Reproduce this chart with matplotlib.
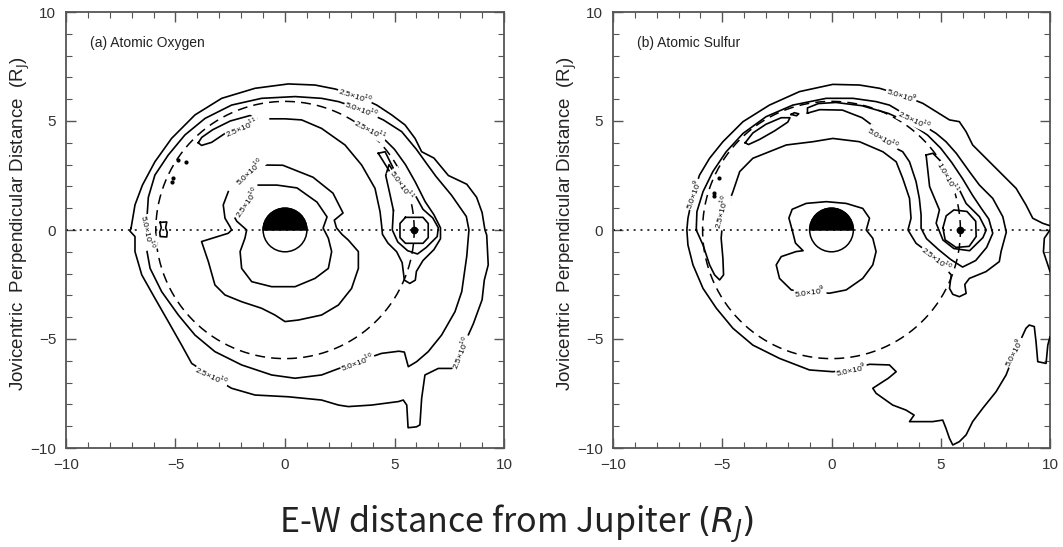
import numpy as np
import matplotlib
matplotlib.use("Agg")
import matplotlib.pyplot as plt
from matplotlib.patches import Wedge, Circle

plt.rcParams['font.family'] = ['Liberation Sans', 'DejaVu Sans']

# ---------------- common geometry (in R_J) ----------------
jupiter_radius = 1.0
io_orbit_radius = 5.9
io_pos = (5.9, 0.0)

# ---------------- (a) atomic oxygen contours ----------------
a_outer = [(-7.03,0.08),(-6.85,1.15),(-6.51,2.06),(-5.94,3.13),(-5.18,4.2),(-4.11,5.28),(-2.89,6.04),
           (-1.37,6.5),(0.15,6.7),(1.37,6.65),(2.28,6.47),(3.2,6.2),(4.19,5.73),(4.87,5.28),(5.48,4.82),
           (5.94,4.2),(6.24,3.59),(6.8,3.3),(7.46,2.5),(8.3,2.1),(8.75,1.5),(9.0,0.8),(9.13,0.0),(9.21,-0.23),
           (9.28,-1.6),(9.1,-2.3),(9.0,-3.2),(8.6,-4.3),(8.2,-5.2),(7.9,-5.9),(7.61,-6.35),(7.0,-6.35),
           (6.39,-6.65),(6.24,-7.72),(6.16,-8.94),(6.0,-9.03),(5.62,-9.07),(5.56,-8.03),(5.4,-7.8),(5.18,-7.87),
           (3.96,-8.03),(2.89,-8.1),(2.44,-8.03),(1.67,-7.8),(0.15,-7.65),(-1.37,-7.57),(-2.44,-7.26),
           (-3.3,-6.75),(-4.26,-6.12),(-4.72,-5.28),(-5.33,-4.2),(-5.94,-3.13),(-6.54,-2.06),(-6.85,-0.99),
           (-6.85,-0.3),(-7.08,-0.05)]
a_mid = [(-6.3,0.6),(-6.24,1.5),(-5.94,2.52),(-5.33,3.44),(-4.57,4.36),(-3.65,5.12),(-2.44,5.73),
         (-1.07,6.04),(0.46,6.12),(1.67,6.04),(2.44,5.89),(3.3,5.6),(4.49,5.05),(5.33,4.51),(6.0,3.7),
         (6.5,3.0),(6.9,2.45),(7.6,1.6),(8.28,0.62),(8.4,0.0),(8.36,-0.46),(8.3,-1.2),(8.07,-2.83),
         (7.76,-3.75),(7.15,-4.82),(6.54,-5.58),(6.01,-6.04),(5.63,-6.27),(5.45,-5.6),(5.2,-5.56),
         (4.41,-5.66),(3.27,-6.05),(2.28,-6.42),(1.67,-6.65),(0.46,-6.8),(-0.61,-6.65),(-1.98,-6.19),
         (-3.2,-5.58),(-4.11,-4.82),(-4.87,-3.9),(-5.63,-2.83),(-6.16,-1.76),(-6.3,-0.99),(-6.35,0.0)]
a_inner_out = [(-2.59,1.76),(-2.82,1.15),(-2.74,0.54),(-2.51,0.15),(-2.44,0.0),(-2.59,-0.15),(-3.81,-0.53),
               (-3.5,-1.45),(-3.2,-2.52),(-2.74,-2.98),(-1.98,-3.29),(-1.07,-3.59),(-0.46,-3.9),(0.0,-4.2),
               (0.61,-4.13),(1.67,-3.9),(2.44,-3.44),(3.04,-2.68),(3.35,-1.76),(3.35,-0.99),(2.89,-0.46),
               (2.6,-0.2),(2.35,0.1),(2.25,0.45),(2.65,0.78),(2.19,1.69),(1.28,2.42),(-0.1,2.97),(-0.91,2.98)]
a_inner_in = [(-1.22,2.06),(-0.37,2.06),(0.55,1.93),(1.46,1.28),(1.92,0.6),(1.74,0.09),(1.98,-0.38),
              (2.13,-0.99),(1.98,-1.76),(1.37,-2.22),(0.46,-2.6),(-0.61,-2.6),(-1.52,-2.37),(-1.98,-1.76),
              (-2.05,-0.99),(-1.83,-0.38),(-1.75,0.0),(-2.2,0.4),(-2.28,0.54)]
a_ring = [(-0.68,5.1),(0.0,5.1),(0.76,5.05),(1.67,4.66),(2.74,3.9),(3.5,2.98),(4.11,1.91),(4.34,0.84),
          (4.41,0.23),(4.45,-0.2),(4.7,-0.6),(5.1,-1.0),(5.35,-1.5),(5.45,-2.3),(5.7,-2.45),(5.95,-2.3),
          (6.0,-1.9),(6.3,-1.4),(6.8,-0.9),(7.1,-0.4),(7.1,0.1),(6.8,0.7),(6.4,1.3),(5.95,2.2),(5.5,3.0),
          (5.0,3.7),(4.5,4.2)]
a_thin = [(-3.96,4.0),(-3.81,3.88),(-3.35,4.02),(-2.74,4.43),(-2.0,4.85),(-1.3,5.1),(-1.6,5.25),
          (-2.5,5.0),(-3.3,4.6),(-3.8,4.25)]
a_io_in = [(5.5,0.58),(6.3,0.58),(6.54,0.3),(6.54,-0.35),(6.3,-0.61),(5.5,-0.61),(5.25,-0.35),(5.25,0.3)]
a_io_mid = [(4.95,0.9),(4.9,0.0),(5.15,-0.55),(5.6,-0.95),(6.05,-1.1),(6.45,-0.8),(6.95,-0.3),(7.0,0.1),
            (6.75,0.55),(6.3,0.95),(6.0,1.5),(5.75,1.9)]
a_io_mid2 = [(5.0,2.6),(4.75,3.0),(4.6,2.5),(4.8,1.6),(4.95,0.9)]
a_box = [(4.26,3.52),(4.57,3.59),(5.1,2.52),(4.94,2.42)]
a_blob = [(-5.7,0.35),(-5.4,0.37),(-5.45,0.1),(-5.38,-0.1),(-5.4,-0.32),(-5.7,-0.3),(-5.72,-0.1),(-5.65,0.1)]

a_closed = [a_outer, a_mid, a_thin, a_io_in, a_box, a_blob]
a_open = [a_inner_out, a_inner_in, a_ring, a_io_mid, a_io_mid2]
a_dots = [(-4.87,3.2),(-4.5,3.12),(-5.1,2.4),(-5.15,2.2)]
a_labels = [("2.5×10$^{10}$", 3.2, 6.17, -18), ("5.0×10$^{10}$", 3.5, 5.55, -20),
            ("2.5×10$^{11}$", 3.9, 4.6, -28), ("5.0×10$^{11}$", 5.35, 2.1, -55),
            ("2.5×10$^{11}$", -1.98, 4.7, 23), ("5.0×10$^{10}$", -1.64, 2.68, 43),
            ("2.5×10$^{10}$", -1.75, 1.3, 55), ("5.0×10$^{10}$", -6.25, -0.1, -78),
            ("5.0×10$^{10}$", 3.3, -6.05, 20), ("2.5×10$^{10}$", -3.35, -6.7, -25),
            ("2.5×10$^{10}$", 8.05, -5.6, 68)]

# ---------------- (b) atomic sulfur contours ----------------
b_outer = [(10.0,0.2),(9.9,0.23),(9.66,0.31),(9.21,0.54),(8.9,1.15),(8.45,1.91),(7.68,2.68),(7.07,3.29),
           (6.46,3.9),(6.16,4.51),(5.85,4.97),(5.4,5.05),(4.79,5.43),(4.18,5.81),(3.2,6.2),(2.2,6.5),
           (1.28,6.65),(0.06,6.68),(-1.46,6.35),(-2.84,5.73),(-4.05,4.97),(-4.97,4.05),(-5.58,3.29),
           (-6.04,2.52),(-6.35,1.6),(-6.57,0.54),(-6.62,0.0),(-6.57,-0.69),(-6.34,-1.6),(-5.88,-2.68),
           (-5.27,-3.59),(-4.51,-4.51),(-3.6,-5.28),(-2.38,-5.89),(-1.01,-6.42),(0.06,-6.5),(0.9,-6.4),
           (1.74,-6.16),(2.65,-6.19),(2.96,-6.5),(2.6,-6.8),(2.35,-6.96),(1.89,-7.26),(2.04,-7.49),
           (2.8,-8.03),(3.41,-8.26),(3.78,-8.49),(3.57,-8.79),(4.02,-8.79),(4.63,-8.79),(5.09,-8.72),
           (5.24,-9.1),(5.4,-9.56),(5.55,-9.86),(5.85,-9.71),(6.16,-9.4),(6.46,-8.79),(6.92,-8.18),
           (7.53,-7.42),(7.99,-6.65),(8.4,-5.6),(8.9,-4.51),(9.05,-4.36),(9.28,-4.43),(9.36,-5.12),
           (9.44,-6.04),(9.82,-6.12),(9.9,-5.28),(10.0,-4.9)]
b_edge = [(10.0,0.0),(9.74,-0.38),(9.7,-1.0),(9.9,-1.6),(10.0,-1.9)]
b_crescent = [(-6.19,0.0),(-6.16,0.84),(-5.88,1.76),(-5.43,2.68),(-4.82,3.59),(-4.05,4.43),(-2.99,5.2),
              (-1.77,5.73),(-0.24,6.04),(0.98,6.04),(2.04,5.89),(2.65,5.73),(3.8,5.05),(4.79,4.43),
              (5.24,4.05),(5.71,3.52),(6.31,2.68),(6.77,2.06),(7.38,1.45),(7.84,0.61),(8.0,-0.1),
              (7.76,-0.99),(7.68,-1.45),(7.07,-1.91),(6.31,-2.22),(6.1,-2.5),(6.16,-2.91),(5.85,-3.06),
              (5.55,-2.95),(5.4,-2.68),(5.48,-2.06),(4.8,-1.3),(3.87,-0.61),(3.5,0.0),(3.64,0.54),
              (3.57,1.45),(3.26,2.37),(2.96,3.13),(2.35,3.59),(1.28,4.05),(0.06,4.2),(-0.85,4.05),
              (-2.07,3.9),(-3.6,3.29),(-4.2,2.68),(-4.51,1.76),(-4.97,0.54),(-5.05,-0.38),(-4.97,-1.3),
              (-4.94,-2.06),(-5.12,-2.29),(-5.35,-2.06),(-5.58,-1.6),(-5.88,-0.69)]
b_mid = [(-1.1,5.36),(-0.54,5.52),(0.5,5.5),(1.4,5.15),(2.0,4.7),(2.75,3.85),(3.26,3.59),(3.57,3.13),
         (3.87,2.22),(4.02,1.45),(4.1,0.69),(4.1,0.08),(4.35,-0.4),(4.9,-0.9),(5.45,-1.35),(6.0,-1.7),
         (6.6,-1.4),(7.1,-0.8),(7.38,-0.15),(7.2,0.5),(6.85,1.0),(6.45,1.6),(6.0,2.35),(5.5,3.1),
         (5.0,3.75),(4.4,4.35),(3.6,4.9),(2.6,5.35),(1.4,5.7),(0.2,5.85),(-0.6,5.8),(-1.1,5.6)]
b_thin = [(-3.95,4.0),(-3.8,3.92),(-3.3,4.15),(-2.6,4.55),(-2.0,4.95),(-1.9,5.15),(-2.3,5.15),
          (-3.0,4.85),(-3.6,4.45)]
b_oval = [(-1.85,5.3),(-1.7,5.38),(-1.5,5.33),(-1.6,5.24)]
b_io_tri = [(4.33,3.44),(4.49,1.99),(4.94,0.92),(4.79,0.31),(5.1,-0.46),(5.6,-0.85),(6.32,-0.95),
            (6.93,-0.35),(7.08,0.0),(6.77,0.61),(6.16,1.22),(5.71,2.14),(5.25,2.9),(4.64,3.52)]
b_io_in = [(5.1,0.1),(5.25,0.65),(5.6,0.92),(6.2,0.85),(6.6,0.4),(6.62,-0.3),(6.3,-0.75),(5.7,-0.8),
           (5.2,-0.45)]
b_inner = [(-1.8,0.0),(-1.95,0.55),(-1.8,0.95),(-1.16,1.22),(-0.24,1.3),(0.67,1.22),(1.43,0.99),
           (1.74,0.54),(1.59,0.0),(1.89,-0.38),(2.04,-0.99),(1.89,-1.6),(1.43,-2.22),(0.67,-2.75),
           (-0.09,-2.9),(-1.0,-2.85),(-1.84,-2.75),(-2.38,-2.22),(-2.53,-1.6),(-2.3,-1.22),
           (-1.62,-0.99),(-1.3,-0.95),(-1.65,-0.6)]

b_closed = [b_crescent, b_mid, b_thin, b_oval, b_io_tri, b_io_in, b_inner]
b_open = [b_outer, b_edge]
b_dots = [(-5.13,2.38),(-5.36,1.55),(-5.36,1.7)]
b_labels = [("5.0×10$^{9}$", 3.2, 6.2, -18), ("2.5×10$^{10}$", 3.8, 5.05, -25),
            ("5.0×10$^{10}$", 2.35, 4.2, -32), ("1.0×10$^{11}$", 5.32, 2.42, -60),
            ("2.5×10$^{10}$", 4.8, -1.3, -37), ("5.0×10$^{9}$", -0.98, -2.82, 8),
            ("5.0×10$^{9}$", 0.9, -6.4, 12), ("5.0×10$^{9}$", 8.35, -5.6, 62),
            ("5.0×10$^{9}$", -6.33, 1.65, 70), ("2.5×10$^{10}$", -5.05, 0.84, 75)]

panels = [("(a) Atomic Oxygen", a_closed, a_open, a_dots, a_labels),
          ("(b) Atomic Sulfur", b_closed, b_open, b_dots, b_labels)]

fig = plt.figure(figsize=(10.63, 5.47), dpi=100)
axes_pos = [[66/1063, 1-448/547, 438/1063, 436/547],
            [613/1063, 1-448/547, 437/1063, 436/547]]
ylab_x = [20/1063, 567/1063]

for k, (title, closed, opened, dots, labels) in enumerate(panels):
    ax = fig.add_axes(axes_pos[k])
    ax.set_xlim(-10, 10)
    ax.set_ylim(-10, 10)
    ax.set_xticks([-10, -5, 0, 5, 10])
    ax.set_yticks([-10, -5, 0, 5, 10])
    ax.set_xticks(np.arange(-10, 11, 1), minor=True)
    ax.set_yticks(np.arange(-10, 11, 1), minor=True)
    ax.tick_params(which='both', direction='in', top=True, right=True, color='#555555',
                   labelsize=11, labelcolor='#333333')
    ax.tick_params(which='major', length=7, width=1, pad=7)
    ax.tick_params(which='minor', length=4, width=0.8)
    for sp in ax.spines.values():
        sp.set_color('#555555')
        sp.set_linewidth(1.3)

    # Io orbit and equator line
    th = np.linspace(0, 2*np.pi, 400)
    ax.plot(io_orbit_radius*np.cos(th), io_orbit_radius*np.sin(th), color='k', lw=1.1,
            dashes=(6.5, 4), zorder=2)
    ax.axhline(0, color='k', lw=1.1, ls=(0, (1.3, 3.2)), zorder=2)

    for c in closed:
        arr = np.array(c + [c[0]])
        ax.plot(arr[:, 0], arr[:, 1], color='k', lw=1.2, zorder=3)
    for c in opened:
        arr = np.array(c)
        ax.plot(arr[:, 0], arr[:, 1], color='k', lw=1.2, zorder=3)
    for (dx, dy) in dots:
        ax.plot(dx, dy, 'o', ms=2, color='k', zorder=3)
    for (txt, lx, ly, rot) in labels:
        ax.text(lx, ly, txt, fontsize=6, rotation=rot, ha='center', va='center',
                rotation_mode='anchor', zorder=5,
                bbox=dict(boxstyle='square,pad=0.05', fc='white', ec='none'))

    # Jupiter: dark upper half, open lower half
    ax.add_patch(Wedge((0, 0), jupiter_radius, 0, 180, fc='k', ec='k', lw=1.1, zorder=4))
    ax.add_patch(Circle((0, 0), jupiter_radius, fc='none', ec='k', lw=1.1, zorder=4))
    ax.plot(*io_pos, 'o', ms=4.5, color='k', zorder=5)

    ax.text(-8.9, 8.6, title, fontsize=10, ha='left', va='center', color='#222222')
    fig.text(ylab_x[k], 1-224/547, "Jovicentric  Perpendicular Distance  (R$_\\mathrm{J}$)",
             rotation=90, ha='center', va='center', fontsize=13.5, color='#222222')

fig.text(517/1063, 1-524/547, "E-W distance from Jupiter $(R_J)$", ha='center', va='center',
         fontsize=24.5, family=['Noto Sans CJK JP', 'DejaVu Sans'], color='#222222')

fig.savefig("out.png", dpi=100)
